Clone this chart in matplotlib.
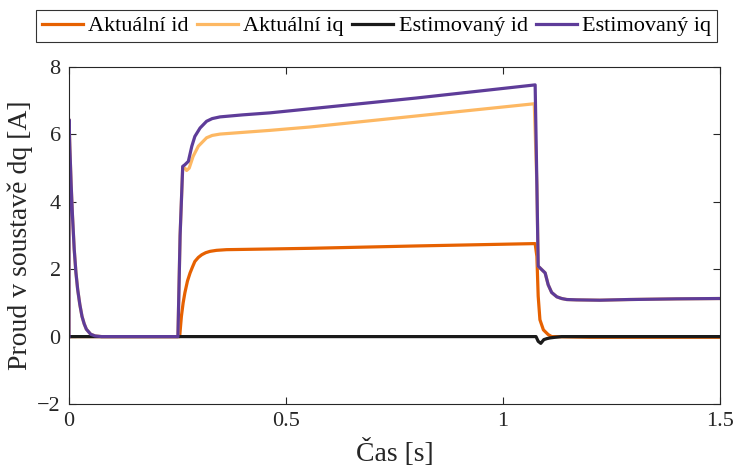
import matplotlib
matplotlib.use("Agg")
import matplotlib.pyplot as plt

# ---- data ----
t_est_iq = [0, 0.0001, 0.002, 0.005, 0.008, 0.012, 0.016, 0.02, 0.025, 0.03, 0.035,
            0.04, 0.05, 0.06, 0.075,
            0.251, 0.256, 0.262, 0.267, 0.275, 0.283, 0.29, 0.302, 0.317, 0.33,
            0.348, 0.4, 0.463, 0.555, 0.8, 1.074, 1.078, 1.081, 1.089, 1.097,
            1.104, 1.112, 1.124, 1.135, 1.147, 1.17, 1.223, 1.29, 1.4, 1.5]
v_est_iq = [0, 6.44, 5.6, 4.5, 3.6, 2.6, 1.9, 1.4, 0.95, 0.6, 0.38,
            0.22, 0.07, 0.02, 0,
            0, 3.0, 5.05, 5.1, 5.2, 5.65, 5.94, 6.19, 6.39, 6.47,
            6.52, 6.58, 6.64, 6.76, 7.08, 7.47, 4.5, 2.09, 1.99, 1.89,
            1.54, 1.31, 1.18, 1.13, 1.1, 1.09, 1.08, 1.1, 1.12, 1.13]

t_act_iq = [0, 0.0001, 0.002, 0.005, 0.008, 0.012, 0.016, 0.02, 0.025, 0.03, 0.035,
            0.04, 0.05, 0.06, 0.075,
            0.251, 0.256, 0.262, 0.267, 0.271, 0.277, 0.286, 0.298, 0.317, 0.33,
            0.348, 0.4, 0.463, 0.555, 1.072, 1.078, 1.081, 1.089, 1.097,
            1.104, 1.112, 1.124, 1.135, 1.147, 1.17, 1.223, 1.29, 1.4, 1.5]
v_act_iq = [0, 6.44, 5.6, 4.5, 3.6, 2.6, 1.9, 1.4, 0.95, 0.6, 0.38,
            0.22, 0.07, 0.02, 0,
            0, 3.0, 5.02, 5.0, 4.93, 5.0, 5.35, 5.65, 5.9, 5.97,
            6.01, 6.06, 6.12, 6.22, 6.91, 4.5, 2.09, 1.99, 1.89,
            1.54, 1.31, 1.18, 1.13, 1.1, 1.09, 1.08, 1.1, 1.12, 1.13]

t_act_id = [0, 0.255, 0.259, 0.263, 0.267, 0.273, 0.279, 0.285, 0.29, 0.298,
            0.306, 0.315, 0.325, 0.34, 0.363, 0.463, 0.555, 0.8,
            1.074, 1.078, 1.081, 1.085, 1.093, 1.104, 1.112, 1.2, 1.5]
v_act_id = [0, 0, 0.6, 1.0, 1.3, 1.65, 1.89, 2.08, 2.23, 2.35,
            2.43, 2.49, 2.53, 2.56, 2.58, 2.60, 2.62, 2.69,
            2.76, 2.38, 1.2, 0.5, 0.2, 0.06, 0.0, -0.02, -0.02]

t_est_id = [0, 1.076, 1.081, 1.087, 1.094, 1.101, 1.108, 1.12, 1.135, 1.5]
v_est_id = [0, 0.0, -0.14, -0.2, -0.09, -0.06, -0.04, -0.02, 0, 0]

labels = ["Aktuální id", "Aktuální iq", "Estimovaný id", "Estimovaný iq"]
colors = ["#e66101", "#fdb863", "#1a1a1a", "#5e3c99"]

xticks = [0, 0.5, 1, 1.5]
xticklabels = ["0", "0.5", "1", "1.5"]
yticks = [-2, 0, 2, 4, 6, 8]

plt.rcParams['font.family'] = ['Liberation Serif', 'DejaVu Serif']

fig = plt.figure(figsize=(7.37, 4.74), dpi=100)
ax = fig.add_axes([0.0936, 0.1477, 0.977 - 0.0936, 0.8586 - 0.1477])

lw = 2.3
h1, = ax.plot(t_act_id, v_act_id, color=colors[0], lw=lw, label=labels[0])
h2, = ax.plot(t_act_iq, v_act_iq, color=colors[1], lw=lw, label=labels[1])
h3, = ax.plot(t_est_id, v_est_id, color=colors[2], lw=lw, label=labels[2])
h4, = ax.plot(t_est_iq, v_est_iq, color=colors[3], lw=lw, label=labels[3])

ax.set_xlim(0, 1.5)
ax.set_ylim(-2, 8)
ax.set_xticks(xticks)
ax.set_xticklabels(xticklabels)
ax.set_yticks(yticks)
ax.tick_params(direction='in', top=True, right=True, length=5, width=0.8,
               labelsize=16, colors='#262626', pad=6)
for s in ax.spines.values():
    s.set_color('#262626')
    s.set_linewidth(0.8)

ax.set_xlabel("Čas [s]", fontsize=20, color='#262626')
ax.xaxis.set_label_coords(0.5, -0.105)
ax.set_ylabel("Proud v soustavě dq [A]", fontsize=20, color='#262626')
ax.yaxis.set_label_coords(-0.056, 0.5)

leg = fig.legend(handles=[h1, h2, h3, h4], loc='center', ncol=4,
                 bbox_to_anchor=(0.511, 0.945), fontsize=16, frameon=True,
                 fancybox=False, edgecolor='black', handlelength=1.85,
                 handletextpad=0.23, columnspacing=0.38, borderpad=0.25,
                 borderaxespad=0)
leg.get_frame().set_linewidth(0.8)

fig.savefig("out.png", dpi=100)
